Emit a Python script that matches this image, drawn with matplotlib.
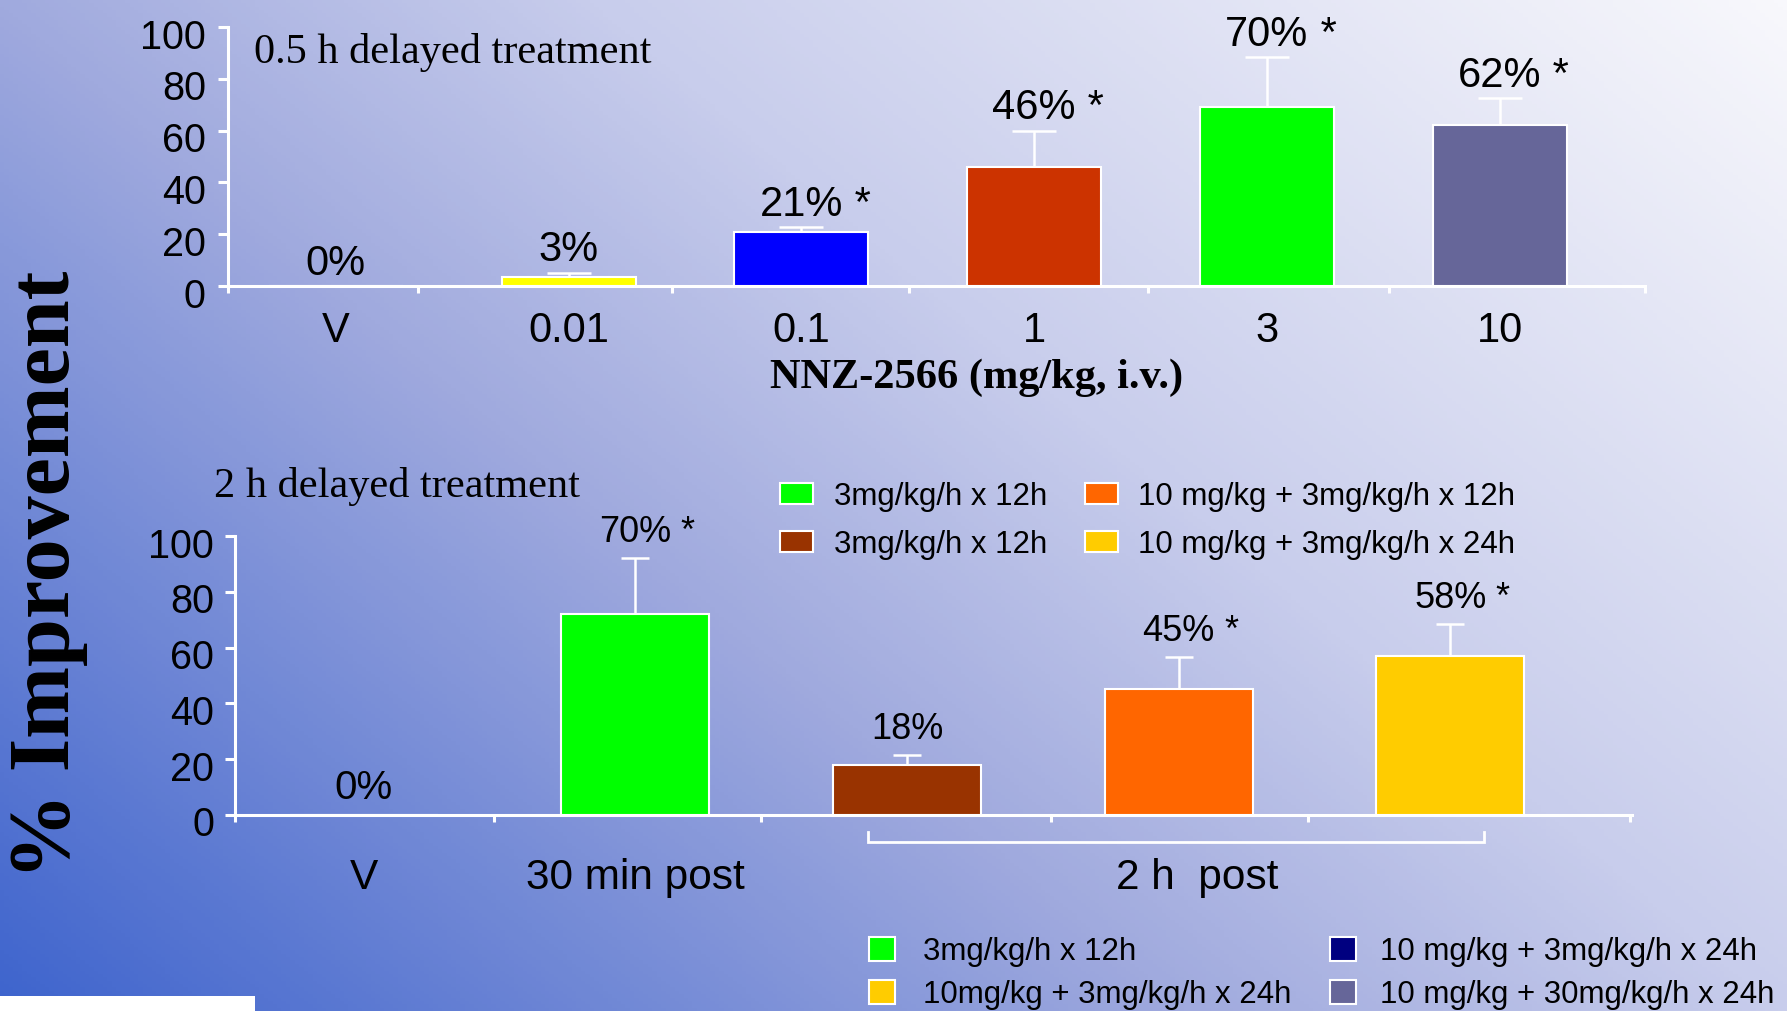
import numpy as np
import matplotlib
matplotlib.use("Agg")
import matplotlib.pyplot as plt
from matplotlib.colors import LinearSegmentedColormap
from matplotlib.patches import Rectangle
from matplotlib.transforms import ScaledTranslation

# ---------------- data ----------------
top_categories = ["V", "0.01", "0.1", "1", "3", "10"]
top_values = [0, 3.5, 21, 46, 69, 62]
top_errors = [0, 1.7, 1.8, 14, 19.5, 10.5]
top_colors = ["#8090C0", "#FFFF00", "#0000FF", "#CC3300", "#00FF00", "#666699"]
top_labels = ["0%", "3%", "21%", "46%", "70%", "62%"]
top_stars = [False, False, True, True, True, True]

bottom_values = [0, 72, 18, 45, 57]
bottom_errors = [0, 20, 3.4, 11.8, 11.4]
bottom_colors = ["#8090C0", "#00FF00", "#993300", "#FF6600", "#FFCC00"]
bottom_labels = ["0%", "70%", "18%", "45%", "58%"]
bottom_stars = [False, True, False, True, True]
bottom_groups = ["V", "30 min post", "2 h  post"]

yticks = [0, 20, 40, 60, 80, 100]

legend1_labels = ["3mg/kg/h x 12h", "3mg/kg/h x 12h",
                  "10 mg/kg + 3mg/kg/h x 12h", "10 mg/kg + 3mg/kg/h x 24h"]
legend1_colors = ["#00FF00", "#993300", "#FF6600", "#FFCC00"]
legend2_labels = ["3mg/kg/h x 12h", "10mg/kg + 3mg/kg/h x 24h",
                  "10 mg/kg + 3mg/kg/h x 24h", "10 mg/kg + 30mg/kg/h x 24h"]
legend2_colors = ["#00FF00", "#FFCC00", "#000080", "#666699"]

# ---------------- layout ----------------
W, H = 1787, 1011
SANS = "Liberation Sans"
SERIF = "Liberation Serif"


def fx(px):
    return px / W


def fy(py):
    return 1 - py / H


fig = plt.figure(figsize=(W / 100, H / 100), dpi=100)

# background gradient
bg = fig.add_axes([0, 0, 1, 1], zorder=-10)
u = np.linspace(0, 1, 400)
v = np.linspace(0, 1, 300)
U, V = np.meshgrid(u, v)
T = 0.6 * U + 0.4 * V
cmap = LinearSegmentedColormap.from_list(
    "bg", [(0.0, (62/255, 100/255, 205/255)),
           (0.4, (160/255, 170/255, 222/255)),
           (0.6, (200/255, 205/255, 236/255)),
           (1.0, (248/255, 248/255, 252/255))])
bg.imshow(T, extent=[0, 1, 0, 1], origin="lower", aspect="auto", cmap=cmap,
          vmin=0, vmax=1)
bg.axis("off")

fig.add_artist(Rectangle((0, 0), fx(255), (H - 996) / H, transform=fig.transFigure,
                         facecolor="white", edgecolor="none", zorder=5))

ax_top = fig.add_axes([fx(228), fy(286), (1645 - 228) / W, (286 - 27) / H])
ax_bot = fig.add_axes([fx(235), fy(815), (1632 - 235) / W, (815 - 536) / H])


def style_axes(ax, ylabel_pad, xlabel_pad, xlabel_size):
    ax.set_facecolor("none")
    for s in ["top", "right"]:
        ax.spines[s].set_visible(False)
    for s in ["left", "bottom"]:
        ax.spines[s].set_color("white")
        ax.spines[s].set_linewidth(2.2)
    ax.set_ylim(0, 100)
    ax.set_yticks(yticks)
    ax.tick_params(axis="y", direction="out", length=7, width=2.2, color="white",
                   labelcolor="black", labelsize=28.5, pad=ylabel_pad)
    for lab in ax.get_yticklabels():
        lab.set_fontfamily(SANS)
        lab.set_transform(lab.get_transform() + ScaledTranslation(0, -0.065, fig.dpi_scale_trans))
    ax.tick_params(axis="x", which="major", length=0, labelcolor="black",
                   labelsize=xlabel_size, pad=xlabel_pad)
    ax.tick_params(axis="x", which="minor", direction="out", length=5, width=2.2,
                   color="white")


def draw_bars(ax, x, values, errors, colors, labels, stars, width, off, sizes, capsize):
    ax.bar(x, values, width=width, color=colors, edgecolor="white", linewidth=1.5,
           zorder=3, clip_on=False)
    for xi, val, err in zip(x, values, errors):
        if err > 0:
            ax.errorbar([xi], [val], yerr=[[0], [err]], fmt="none", ecolor="white",
                        elinewidth=1.8, capthick=1.8, capsize=capsize, zorder=2)
    for xi, val, err, lab, st, fs in zip(x, values, errors, labels, stars, sizes):
        t = ax.annotate(lab, xy=(xi, val + err), xytext=(0, off),
                        textcoords="offset points", ha="center", va="baseline",
                        fontsize=fs, family=SANS, color="black", annotation_clip=False)
        if st:
            ax.annotate(" *", xy=(1, 0), xycoords=t, ha="left", va="bottom",
                        fontsize=fs, family=SANS, color="black", annotation_clip=False)


# ---- top panel ----
style_axes(ax_top, 9, 18, 30)
xt = np.arange(len(top_categories))
ax_top.set_xlim(-0.463, 5.624)
ax_top.set_xticks(xt)
ax_top.set_xticklabels(top_categories, family=SANS)
ax_top.set_xticks([-0.463, 0.354, 1.445, 2.463, 3.49, 4.525, 5.624], minor=True)
draw_bars(ax_top, xt, top_values, top_errors, top_colors, top_labels, top_stars,
          0.575, 8, [30] * 6, 16)

# ---- bottom panel ----
style_axes(ax_bot, 8, 31, 30.5)
xb = np.arange(len(bottom_values))
ax_bot.set_xlim(-0.474, 4.669)
ax_bot.set_xticks([0, 1, 3.07])
ax_bot.set_xticklabels(bottom_groups, family=SANS)
ax_bot.set_xticks([-0.474, 0.478, 1.461, 2.529, 3.476, 4.66], minor=True)
draw_bars(ax_bot, xb, bottom_values, bottom_errors, bottom_colors, bottom_labels,
          bottom_stars, 0.545, 11.5, [29, 26, 26, 26, 26], 10)
# bracket under the "2 h post" group
ax_bot.plot([1.857, 1.857, 4.125, 4.125], [-6.1, -9.7, -9.7, -6.1], color="white",
            lw=2.0, clip_on=False, solid_joinstyle="miter")

# ---- texts ----
fig.text(fx(254), fy(63), "0.5 h delayed treatment", ha="left", va="baseline",
         family=SERIF, fontsize=30.5, color="black")
fig.text(fx(213.5), fy(497), "2 h delayed treatment", ha="left", va="baseline",
         family=SERIF, fontsize=30.5, color="black")
fig.text(fx(977), fy(388), "NNZ-2566 (mg/kg, i.v.)", ha="center", va="baseline",
         family=SERIF, weight="bold", fontsize=30.5, color="black")
fig.text(fx(49), fy(575), "% Improvement", rotation=90, ha="center", va="center",
         family=SERIF, weight="bold", fontsize=62, color="black")


# ---- legends ----
def draw_legend(labels, colors, sw_left, sw_size, row_centers, text_x, fs):
    w, h = sw_size
    for i, (lab, col) in enumerate(zip(labels, colors)):
        c, r = divmod(i, 2)
        yc = row_centers[r]
        fig.add_artist(Rectangle((fx(sw_left[c]), fy(yc + h / 2)), w / W, h / H,
                                 transform=fig.transFigure, facecolor=col,
                                 edgecolor="white", linewidth=1.5, zorder=6))
        fig.text(fx(text_x[c]), fy(yc + 11), lab, ha="left", va="baseline",
                 family=SANS, fontsize=fs, color="black", zorder=6)


draw_legend(legend1_labels, legend1_colors, [780, 1085], (33, 21.5),
            [493.5, 541.5], [834, 1138.5], 22.5)
draw_legend(legend2_labels, legend2_colors, [869, 1330], (26, 24.5),
            [949, 992], [923, 1380], 22.5)

fig.savefig("out.png", dpi=100)
